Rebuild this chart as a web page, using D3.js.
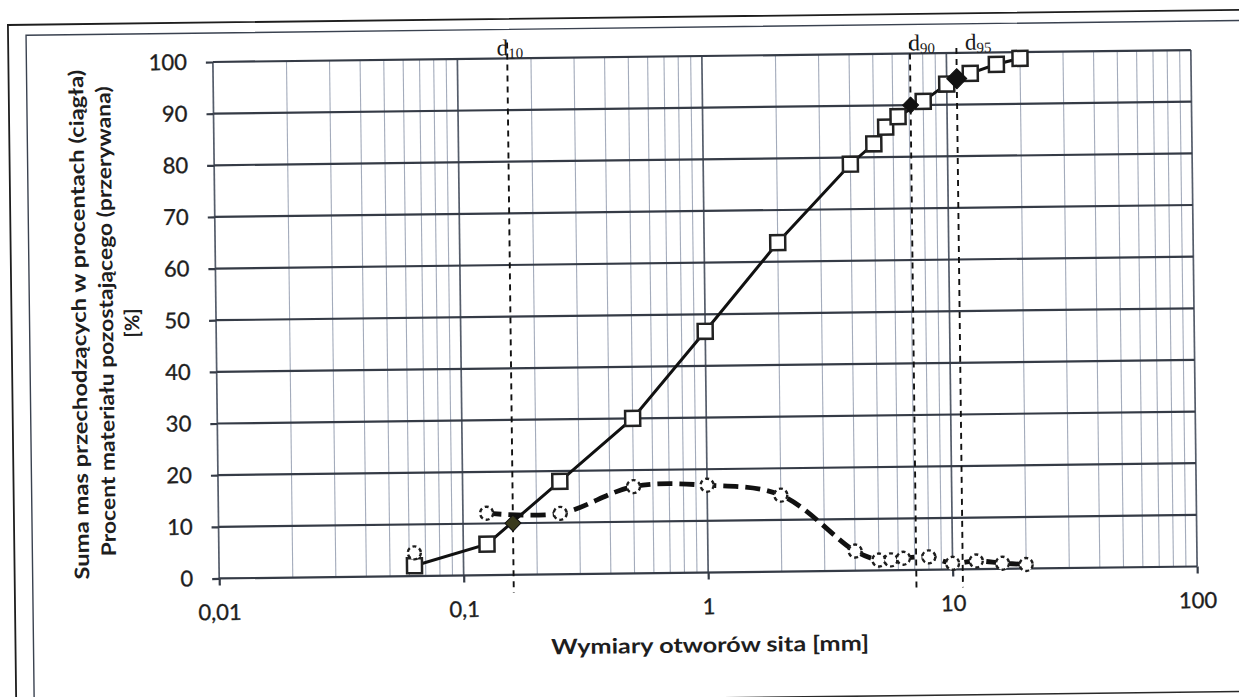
<!DOCTYPE html>
<html>
<head>
<meta charset="utf-8">
<script src="https://cdn.jsdelivr.net/npm/d3@7"></script>
<style>
  html, body { margin: 0; padding: 0; background: #ffffff; }
  svg { display: block; }
</style>
</head>
<body>
<svg id="chart" width="1239" height="697"></svg>
<script>
// ---- data ----
const sieveSizes = [0.063, 0.125, 0.25, 0.5, 1, 2, 4, 5, 5.6, 6.3, 8, 10, 12.5, 16, 20];
const passingPercent = [2, 6, 18, 30, 46.7, 63.7, 78.7, 82.6, 85.8, 87.8, 90.7, 94, 96, 97.7, 98.8];
const retainedPercent = [4.5, 12, 11.8, 16.8, 16.9, 14.8, 3.8, 2, 2, 2.3, 2.5, 1.2, 1.6, 1.1, 0.8];
const dNames = ["10", "90", "95"];
const dSizes = [0.16, 7.1, 11];
const dPercents = [10, 90, 95];
const xTickValues = [0.01, 0.1, 1, 10, 100];
const xTickLabels = ["0,01", "0,1", "1", "10", "100"];
const yTickValues = [0, 10, 20, 30, 40, 50, 60, 70, 80, 90, 100];
const xTitle = "Wymiary otworów sita [mm]";
const yTitleLines = ["Suma mas przechodzących w procentach (ciągła)",
                     "Procent materiału pozostającego (przerywana)",
                     "[%]"];

// ---- layout ----
const L = 216, R = 1194, T = 56, B = 572.5;
const svg = d3.select("#chart");
svg.append("rect").attr("width", 1239).attr("height", 697).attr("fill", "#fff");
const root = svg.append("g").attr("transform", "rotate(-0.7, 705, 314)");

const x = d3.scaleLog().domain([0.01, 100]).range([L, R]);
const y = d3.scaleLinear().domain([0, 100]).range([B, T]);

// frames
const frame = root.append("g").attr("fill", "none");
frame.append("path").attr("d", "M11.5,740 L11.5,16.5 L1280,16.5").attr("stroke", "#1e1e1e").attr("stroke-width", 1.8);
frame.append("path").attr("d", "M29.5,740 L29.5,27 L1280,27").attr("stroke", "#3a4250").attr("stroke-width", 1.4);
frame.append("path").attr("d", "M0,698 L1280,698").attr("stroke", "#2a2a2a").attr("stroke-width", 1.6);

// minor vertical grid
const minorVals = [];
[0.01, 0.1, 1, 10].forEach(k => { for (let m = 2; m <= 9; m++) minorVals.push(m * k); });
root.append("g").selectAll("line").data(minorVals).join("line")
  .attr("x1", d => x(d)).attr("x2", d => x(d))
  .attr("y1", T).attr("y2", B)
  .attr("stroke", "#a3abbb").attr("stroke-width", 1.1);

// major vertical grid
root.append("g").selectAll("line").data(xTickValues).join("line")
  .attr("x1", d => x(d)).attr("x2", d => x(d))
  .attr("y1", T).attr("y2", B)
  .attr("stroke", "#555d6b").attr("stroke-width", 1.7);

// horizontal grid
root.append("g").selectAll("line").data(yTickValues).join("line")
  .attr("x1", L).attr("x2", R)
  .attr("y1", d => y(d)).attr("y2", d => y(d))
  .attr("stroke", "#353b46").attr("stroke-width", 2.2);

// axes (ticks + labels)
const yAxis = d3.axisLeft(y).tickValues(yTickValues).tickSize(7).tickPadding(19).tickFormat(d3.format("d"));
const gy = root.append("g").attr("transform", `translate(${L},0)`).call(yAxis);
const xAxis = d3.axisBottom(x).tickValues(xTickValues).tickSize(7).tickPadding(19)
  .tickFormat((d, i) => xTickLabels[i]);
const gx = root.append("g").attr("transform", `translate(0,${B})`).call(xAxis);
[gx, gy].forEach(g => {
  g.select(".domain").remove();
  g.selectAll(".tick line").attr("stroke", "#353b46").attr("stroke-width", 2.2);
  g.selectAll(".tick text").attr("fill", "#1e1e1e")
    .attr("stroke", "#1e1e1e").attr("stroke-width", 0.35)
    .style("font-family", "Lato, 'Open Sans', sans-serif").style("font-size", "22px");
});

// axis titles
root.append("text").attr("x", 706).attr("y", 645).attr("dy", "0.35em")
  .attr("text-anchor", "middle").attr("textLength", 318).attr("lengthAdjust", "spacingAndGlyphs")
  .style("font-family", "Lato, sans-serif").style("font-size", "21px").style("font-weight", 700)
  .attr("fill", "#1e1e1e").text(xTitle);

const yTitlePos = [{x: 79, y: 317, len: 510}, {x: 106, y: 314, len: 470}, {x: 132, y: 316, len: null}];
yTitleLines.forEach((t, i) => {
  const p = yTitlePos[i];
  const tx = root.append("text")
    .attr("transform", `translate(${p.x},${p.y}) rotate(-90)`)
    .attr("dy", "0.35em").attr("text-anchor", "middle")
    .style("font-family", "Lato, sans-serif").style("font-size", "20px").style("font-weight", 700)
    .attr("fill", "#1e1e1e").text(t);
  if (p.len) tx.attr("textLength", p.len).attr("lengthAdjust", "spacingAndGlyphs");
});

// d-lines and labels
const dLineTop = [40, 45, 51];
const dLabelDx = [-10.5, -1.5, 8.5];
const dG = root.append("g");
dSizes.forEach((s, i) => {
  dG.append("line").attr("x1", x(s)).attr("x2", x(s)).attr("y1", dLineTop[i]).attr("y2", 590.5)
    .attr("stroke", "#111").attr("stroke-width", 1.9).attr("stroke-dasharray", "6 5");
  const t = dG.append("text").attr("x", x(s) + dLabelDx[i]).attr("y", 53)
    .style("font-family", "'Liberation Serif', 'DejaVu Serif', serif").style("font-size", "23px")
    .attr("fill", "#1a1a1a").text("d");
  t.append("tspan").attr("dy", 3).style("font-size", "15px").text(dNames[i]);
});

// data
const data = sieveSizes.map((s, i) => ({s, p: passingPercent[i], r: retainedPercent[i]}));

// solid cumulative passing line
root.append("path").datum(data)
  .attr("d", d3.line().x(d => x(d.s)).y(d => y(d.p)))
  .attr("fill", "none").attr("stroke", "#111").attr("stroke-width", 3);

// dashed retained line (smoothed)
root.append("path").datum(data)
  .attr("d", d3.line().defined((d, i) => i > 0).x(d => x(d.s)).y(d => y(d.r)).curve(d3.curveCatmullRom.alpha(0.5)))
  .attr("fill", "none").attr("stroke", "#111").attr("stroke-width", 4.8).attr("stroke-dasharray", "15 7");

// square markers
const sq = 15;
root.append("g").selectAll("rect").data(data).join("rect")
  .attr("x", d => x(d.s) - sq / 2).attr("y", d => y(d.p) - sq / 2)
  .attr("width", sq).attr("height", sq)
  .attr("fill", "#fff").attr("stroke", "#222").attr("stroke-width", 2.5);

// dashed circle markers
root.append("g").selectAll("circle").data(data).join("circle")
  .attr("cx", d => x(d.s)).attr("cy", d => y(d.r)).attr("r", 6.5)
  .attr("fill", "#fff").attr("stroke", "#1e1e1e").attr("stroke-width", 2.4).attr("stroke-dasharray", "4 3");

// d-point diamonds
const dRad = [8, 8, 10];
const dFill = ["#3a3a1c", "#111", "#111"];
root.append("g").selectAll("path").data(dSizes).join("path")
  .attr("d", (s, i) => {
    const cx = x(s), cy = y(dPercents[i]), r = dRad[i];
    return `M${cx},${cy - r}L${cx + r},${cy}L${cx},${cy + r}L${cx - r},${cy}Z`;
  })
  .attr("fill", (s, i) => dFill[i]).attr("stroke", "#111").attr("stroke-width", 1);
</script>
</body>
</html>
